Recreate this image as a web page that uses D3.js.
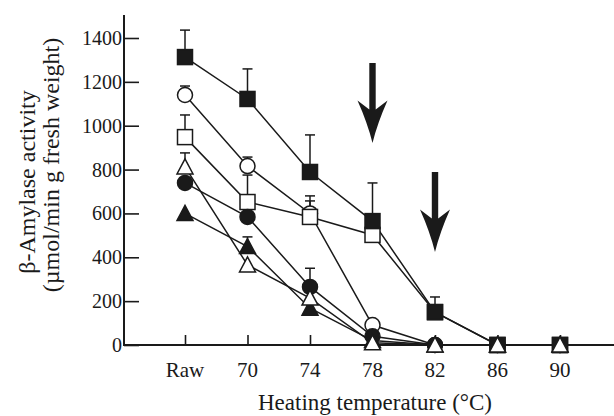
<!DOCTYPE html>
<html><head><meta charset="utf-8">
<script src="https://cdn.jsdelivr.net/npm/d3@7/dist/d3.min.js"></script>
<style>html,body{margin:0;padding:0;background:#fff;}svg{display:block;}</style>
</head><body>
<svg id="c" width="614" height="416"></svg>
<script>
const categories = ["Raw","70","74","78","82","86","90"];
const yTicks = [0,200,400,600,800,1000,1200,1400];

// series values (β-amylase activity), one per category
const filledSquare   = [1313, 1122, 789, 565, 150, 0, 0];
const openSquare     = [948, 652, 584, 502, 150, 0, 0];
const filledTriangle = [600, 449, 168, 20, 0, 0, 0];
const filledCircle   = [739, 584, 265, 40, 0, 0, 0];
const openCircle     = [1140, 816, 600, 91, 0, 0, 0];
const openTriangle   = [812, 365, 214, 10, 0, 0, 0];

// upper ends of error bars (null = none visible)
const filledSquareErr   = [1436, 1259, 958, 739, 219, null, null];
const openSquareErr     = [1049, 775, 680, null, null, null, null];
const filledTriangleErr = [null, 493, null, null, null, null, null];
const filledCircleErr   = [null, null, 350, null, null, null, null];
const openCircleErr     = [1181, 857, 657, null, null, null, null];
const openTriangleErr   = [876, null, null, null, null, null, null];

// arrows: category, top of shaft, tip value
const arrowCats = ["78","82"];
const arrowTop  = [1286, 789];
const arrowTip  = [921, 424];

// drawing order (later on top)
const series = [
  {v: openCircle, e: openCircleErr, shape: "circle", fill: "#fff"},
  {v: openSquare, e: openSquareErr, shape: "square", fill: "#fff"},
  {v: filledSquare, e: filledSquareErr, shape: "square", fill: "#1a1a1a"},
  {v: filledTriangle, e: filledTriangleErr, shape: "triangle", fill: "#1a1a1a"},
  {v: filledCircle, e: filledCircleErr, shape: "circle", fill: "#1a1a1a"},
  {v: openTriangle, e: openTriangleErr, shape: "triangle", fill: "#fff"}
];

const svg = d3.select("#c");
const x = d3.scaleLinear().domain([-1, 7]).range([122.5, 622.5]);
const xi = c => x(categories.indexOf(c));
const y = d3.scaleLinear().domain([0, 1400]).range([345, 38]);
const ink = "#1a1a1a";
const font = "Liberation Serif, Times New Roman, DejaVu Serif, serif";

// axes
const yAxis = d3.axisRight(y).tickValues(yTicks).tickSize(15).tickFormat("");
const gy = svg.append("g").attr("transform", "translate(124,0)").call(yAxis);
gy.select(".domain").remove();
gy.selectAll("line").attr("stroke", ink).attr("stroke-width", 1.6);
svg.append("line").attr("x1",124).attr("x2",124).attr("y1",15).attr("y2",346)
  .attr("stroke", ink).attr("stroke-width", 2);
svg.selectAll(".ylab").data(yTicks).enter().append("text")
  .attr("x", 122).attr("y", d => y(d) + 7).attr("text-anchor","end")
  .attr("font-family", font).attr("font-size", 20).attr("fill", ink)
  .text(d => d);

const xAxis = d3.axisTop(d3.scaleLinear().domain(x.domain()).range(x.range()))
  .tickValues(d3.range(categories.length)).tickSize(10).tickFormat("");
const gx = svg.append("g").attr("transform", "translate(0,345)").call(xAxis);
gx.select(".domain").remove();
gx.selectAll("line").attr("stroke", ink).attr("stroke-width", 1.6);
svg.append("line").attr("x1",123).attr("x2",614).attr("y1",345).attr("y2",345)
  .attr("stroke", ink).attr("stroke-width", 2);
svg.selectAll(".xlab").data(categories).enter().append("text")
  .attr("x", d => xi(d)).attr("y", 377).attr("text-anchor","middle")
  .attr("font-family", font).attr("font-size", 21).attr("fill", ink)
  .text(d => d);

svg.append("text").attr("x", 375).attr("y", 410).attr("text-anchor","middle")
  .attr("font-family", font).attr("font-size", 23).attr("fill", ink)
  .text("Heating temperature (°C)");
svg.append("text").attr("transform","translate(35,182) rotate(-90)").attr("text-anchor","middle")
  .attr("font-family", font).attr("font-size", 24).attr("fill", ink)
  .text("β-Amylase activity");
svg.append("text").attr("transform","translate(59,165) rotate(-90)").attr("text-anchor","middle")
  .attr("font-family", font).attr("font-size", 24).attr("fill", ink)
  .text("(µmol/min g fresh weight)");

// lines
const line = d3.line().defined(d => d != null).x((d,i) => x(i)).y(d => y(d));
series.forEach(s => {
  svg.append("path").attr("d", line(s.v)).attr("fill","none")
    .attr("stroke", ink).attr("stroke-width", 1.5);
});

// error bars
series.forEach(s => {
  s.e.forEach((e, i) => {
    if (e == null) return;
    const cx = x(i);
    svg.append("line").attr("x1",cx).attr("x2",cx).attr("y1",y(s.v[i])).attr("y2",y(e))
      .attr("stroke", ink).attr("stroke-width", 1.5);
    svg.append("line").attr("x1",cx-5).attr("x2",cx+5).attr("y1",y(e)).attr("y2",y(e))
      .attr("stroke", ink).attr("stroke-width", 1.5);
  });
});

// markers
series.forEach(s => {
  s.v.forEach((v, i) => {
    if (v == null) return;
    const cx = x(i), cy = y(v);
    let m;
    if (s.shape === "square") {
      m = svg.append("rect").attr("x", cx-7.5).attr("y", cy-7.5).attr("width",15).attr("height",15);
    } else if (s.shape === "circle") {
      m = svg.append("circle").attr("cx", cx).attr("cy", cy).attr("r", 7.5);
    } else {
      m = svg.append("path").attr("d", `M${cx},${cy-8}L${cx+8},${cy+7}L${cx-8},${cy+7}Z`);
    }
    m.attr("fill", s.fill).attr("stroke", ink).attr("stroke-width", 1.5);
  });
});

// arrows
arrowCats.forEach((c, i) => {
  const ax = xi(c), top = y(arrowTop[i]), tip = y(arrowTip[i]);
  const len = tip - top;
  const hb = tip - len * 0.53;  // barb y
  const hj = tip - len * 0.42;  // junction y
  svg.append("path").attr("fill", ink).attr("d",
    `M${ax-3.2},${top}L${ax+3.2},${top}L${ax+3.2},${hj}L${ax+15},${hb}` +
    `Q${ax+5},${tip-len*0.25} ${ax},${tip}Q${ax-5},${tip-len*0.25} ${ax-15},${hb}L${ax-3.2},${hj}Z`);
});
</script>
</body></html>
